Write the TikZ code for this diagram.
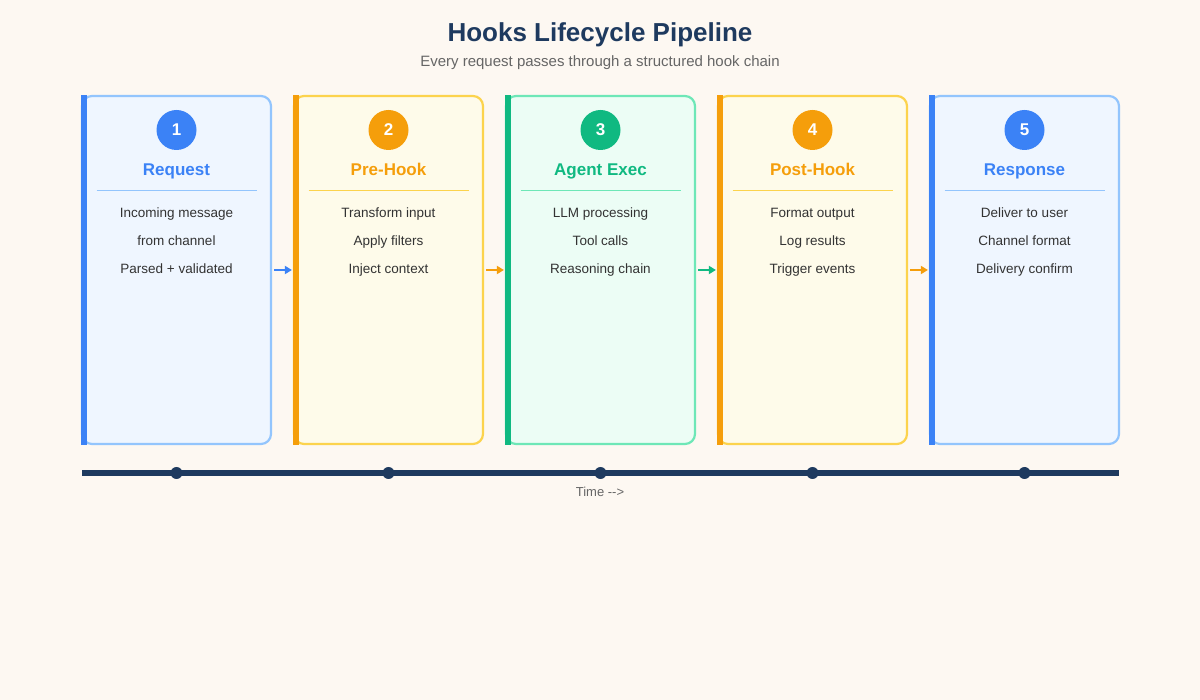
\documentclass[tikz,border=0pt]{standalone}
\usepackage{fontspec}
\setmainfont{Liberation Sans}
\usetikzlibrary{positioning,arrows.meta}
\definecolor{bgc}{HTML}{FDF8F2}
\definecolor{navy}{HTML}{1E3A5F}
\definecolor{txt}{HTML}{333333}
\definecolor{subt}{HTML}{666666}
\definecolor{bluA}{HTML}{3B82F6}\definecolor{bluB}{HTML}{93C5FD}\definecolor{bluC}{HTML}{EFF6FF}
\definecolor{orgA}{HTML}{F59E0B}\definecolor{orgB}{HTML}{FCD34D}\definecolor{orgC}{HTML}{FEFBEA}
\definecolor{grnA}{HTML}{10B981}\definecolor{grnB}{HTML}{6EE7B7}\definecolor{grnC}{HTML}{ECFDF5}
\tikzset{
  cardbox/.style={draw=#1B, fill=#1C, line width=2.2pt, rounded corners=10pt,
    minimum width=189pt, minimum height=348pt, inner sep=0pt},
  numdot/.style={circle, fill=#1A, minimum size=40pt, inner sep=0pt,
    text=white, font=\fontsize{17}{20}\selectfont\bfseries},
  cardtitle/.style={text=#1A, font=\fontsize{17}{20}\selectfont\bfseries,
    text height=0.72em, text depth=0.22em, inner sep=0pt},
  bodytext/.style={text=txt, font=\fontsize{13.5}{16}\selectfont,
    text height=0.72em, text depth=0.22em, inner sep=0pt},
  flow/.style={-{Triangle[length=7pt,width=8pt]}, line width=2.4pt, draw=#1A},
}
\begin{document}
\begin{tikzpicture}[x=1pt,y=-1pt]
\useasboundingbox[fill=bgc] (0,0) rectangle (1200,700);

% titles
\node[text=navy, font=\fontsize{26}{30}\selectfont\bfseries] (title) at (600,35) {Hooks Lifecycle Pipeline};
\node[text=subt, font=\fontsize{15}{17}\selectfont] (subtitle) at (600,63) {Every request passes through a structured hook chain};

% cards
\foreach \i/\c/\n/\t/\a/\b/\d in {
  1/blu/1/Request/Incoming message/from channel/Parsed + validated,
  2/org/2/Pre-Hook/Transform input/Apply filters/Inject context,
  3/grn/3/Agent Exec/LLM processing/Tool calls/Reasoning chain,
  4/org/4/Post-Hook/Format output/Log results/Trigger events,
  5/blu/5/Response/Deliver to user/Channel format/Delivery confirm} {
  \pgfmathsetmacro{\cx}{176.5+212*(\i-1)}
  \node[cardbox=\c] (card\i) at (\cx,270) {};
  \fill[\c A] (\cx-94.5-1,96-1) rectangle (\cx-89.5,444+1);
  \node[numdot=\c] (num\i) at (\cx,130) {\n};
  \node[cardtitle=\c] (head\i) at (\cx,173) {\t};
  \draw[\c B, line width=0.8pt] (\cx-80,190) -- (\cx+80,190);
  \node[bodytext] (la\i) at (\cx,215) {\a};
  \node[bodytext] (lb\i) at (\cx,243) {\b};
  \node[bodytext] (lc\i) at (\cx,271) {\d};
  \fill[navy] (\cx,473) circle (6pt);
}

% arrows between cards
\foreach \i/\j/\c in {1/2/blu,2/3/org,3/4/grn,4/5/org}
  \draw[flow=\c] ([xshift=2pt]card\i.east |- 0,270) -- ([xshift=-1pt]card\j.west |- 0,270);

% timeline
\draw[navy, line width=6pt] (82,473) -- (1119,473);
\node[text=subt, font=\fontsize{13}{16}\selectfont] (timelabel) at (600,492) {Time {-}{-}>};
\end{tikzpicture}
\end{document}
